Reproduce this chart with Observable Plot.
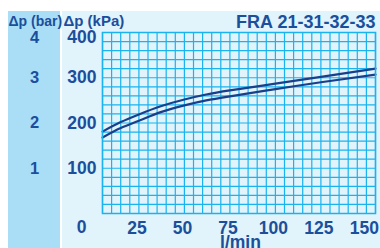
<!DOCTYPE html>
<html>
<head>
<meta charset="utf-8">
<script src="https://cdn.jsdelivr.net/npm/d3@7"></script>
<script src="https://cdn.jsdelivr.net/npm/@observablehq/plot@0.6"></script>
<style>
  html, body { margin: 0; padding: 0; background: #ffffff; }
  #wrap { position: relative; width: 380px; height: 248px; overflow: hidden; }
  #band { position: absolute; left: 8px; top: 11px; width: 52px; height: 237px; background: #aadef7; }
  #panel { position: absolute; left: 62px; top: 11px; width: 318px; height: 237px; background: #e1f3fb; }
  #chart { position: absolute; left: 0; top: 0; }
  #chart svg text { font-weight: bold; }
</style>
</head>
<body>
<div id="wrap">
  <div id="band"></div>
  <div id="panel"></div>
  <div id="chart"></div>
</div>
<script>
// Flow (l/min) and pressure drop (kPa)
const flow = [5, 15, 25, 37, 50, 62, 75, 100, 125, 155];
const upperKpa = [181, 202, 219, 237, 252, 263, 272, 287, 302, 320];
const lowerKpa = [168, 189, 205, 224, 239, 250, 259, 275, 290, 307];

const xTicks = [25, 50, 75, 100, 125, 150];
const yTicks = [100, 200, 300];
const yTopTick = [400];
const xGrid = d3.range(5, 156, 5);
const yGrid = d3.range(0, 401, 20);

const title = "FRA 21-31-32-33";
const yLabelKpa = "Δp (kPa)";
const yLabelBar = "Δp (bar)";
const xLabel = "l/min";

const upper = flow.map((f, i) => ({flow: f, kpa: upperKpa[i]}));
const lower = flow.map((f, i) => ({flow: f, kpa: lowerKpa[i]}));

const textColor = "#1b4f9c";
const gridColor = "#1ab3ee";
const lineColor = "#1a3f8a";
const font = "'Liberation Sans', Arial, sans-serif";

const chart = Plot.plot({
  width: 380,
  height: 248,
  marginLeft: 102,
  marginRight: 5,
  marginTop: 32,
  marginBottom: 35,
  style: {background: "transparent", color: textColor, fontFamily: font, overflow: "visible"},
  x: {domain: [5, 155]},
  y: {domain: [0, 400]},
  marks: [
    Plot.ruleX(xGrid, {stroke: gridColor, strokeWidth: 1.2, strokeOpacity: 1}),
    Plot.ruleY(yGrid, {stroke: gridColor, strokeWidth: 1.2, strokeOpacity: 1}),
    Plot.line(upper, {x: "flow", y: "kpa", curve: "natural", stroke: lineColor, strokeWidth: 2.2}),
    Plot.line(lower, {x: "flow", y: "kpa", curve: "natural", stroke: lineColor, strokeWidth: 2.2}),
    Plot.axisX(xTicks, {tickSize: 0, tickPadding: 8, dx: -2, fontSize: 17.5, label: null, fill: textColor}),
    Plot.axisY(yTicks, {tickSize: 0, tickPadding: 6, fontSize: 17.5, label: null, fill: textColor}),
    Plot.axisY(yTopTick, {tickSize: 0, tickPadding: 6, dy: 5, fontSize: 17.5, label: null, fill: textColor}),
    Plot.axisY(yTicks, {tickSize: 0, tickPadding: 0, dx: -68, textAnchor: "middle", tickFormat: d => d / 100, fontSize: 16.5, label: null, fill: textColor}),
    Plot.axisY(yTopTick, {tickSize: 0, tickPadding: 0, dx: -68, dy: 5, textAnchor: "middle", tickFormat: d => d / 100, fontSize: 16.5, label: null, fill: textColor}),
    Plot.text(["0"], {frameAnchor: "bottom-left", dx: -21, dy: 13.5, textAnchor: "middle", lineAnchor: "middle", fontSize: 17.5, fill: textColor}),
    Plot.text([xLabel], {frameAnchor: "bottom", dx: 1.5, dy: 22, lineAnchor: "top", fontSize: 17.5, fill: textColor}),
    Plot.text([title], {frameAnchor: "top-right", textAnchor: "end", lineAnchor: "bottom", dy: -5, fontSize: 18, fill: textColor}),
    Plot.text([yLabelKpa], {frameAnchor: "top-left", textAnchor: "start", lineAnchor: "bottom", dx: -39, dy: -6.5, fontSize: 15, fill: textColor}),
    Plot.text([yLabelBar], {frameAnchor: "top-left", textAnchor: "start", lineAnchor: "bottom", dx: -94, dy: -6.5, fontSize: 14, fill: textColor, letterSpacing: "-0.4px"}),
    Plot.frame({stroke: gridColor, strokeWidth: 1.5})
  ]
});
document.getElementById("chart").appendChild(chart);
</script>
</body>
</html>
